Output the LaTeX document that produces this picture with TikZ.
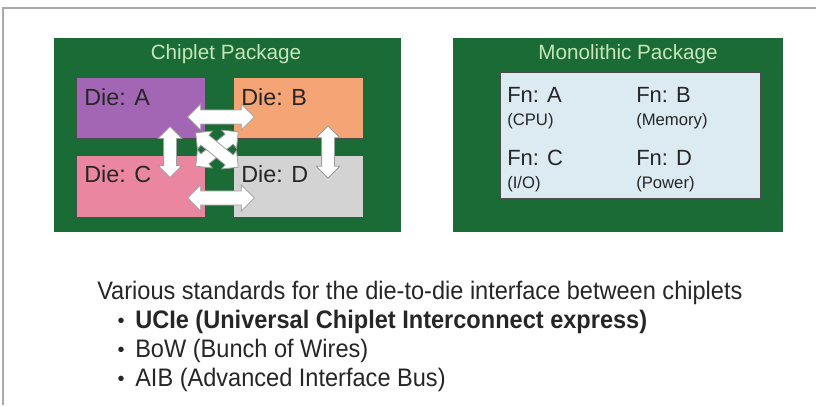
\documentclass[tikz,border=0pt]{standalone}
\usepackage{fontspec}
\setmainfont{Liberation Sans}
\newfontfamily\narrowsf{Liberation Sans}[FakeStretch=0.93]
\usetikzlibrary{shapes.arrows,fit}

\definecolor{pkggreen}{HTML}{1B6B36}
\definecolor{titlegreen}{HTML}{C6E6BA}
\definecolor{dieA}{HTML}{A266B4}
\definecolor{dieB}{HTML}{F5A476}
\definecolor{dieC}{HTML}{EB86A0}
\definecolor{dieD}{HTML}{D3D3D3}
\definecolor{monobox}{HTML}{DCEAF2}
\definecolor{framegray}{HTML}{AAAAAA}

\tikzset{
  pkg/.style={fill=pkggreen, inner sep=0pt},
  pkgtitle/.style={text=titlegreen, font=\fontsize{15.5}{18}\selectfont, anchor=base, inner sep=0pt},
  die/.style={draw=black!70, line width=0.6pt, inner sep=0pt},
  dietext/.style={text=black!85, font=\fontsize{17.5}{20}\selectfont, anchor=base west, inner sep=0pt},
  fntext/.style={text=black!85, font=\fontsize{16.5}{20}\selectfont, anchor=base west, inner sep=0pt},
  fnsub/.style={text=black!85, font=\fontsize{12.5}{15}\selectfont, anchor=base west, inner sep=0pt},
  dblarrow/.style={double arrow, draw=gray!75, fill=white, line width=0.6pt, inner xsep=0pt,
    inner ysep=5pt, double arrow head extend=4.5pt, double arrow tip angle=90, minimum width=0pt},
  thinarrow/.style={dblarrow, inner ysep=4.5pt, double arrow head extend=4pt},
  bodytext/.style={font=\narrowsf\fontsize{19}{22}\selectfont, text=black!85, anchor=base west, inner sep=0pt},
  bulletmark/.style={font=\fontsize{15}{18}\selectfont, text=black!85, anchor=base, inner sep=0pt}
}

\begin{document}
\begin{tikzpicture}[x=0.75pt, y=-0.75pt]
  \useasboundingbox (0,0) rectangle (816,405);
  \draw[framegray, line width=1.2pt] (816,8) -- (3,8) -- (3,405);

  % chiplet package
  \node[pkg, fit={(54,38) (401,232)}] (chip) {};
  \node[pkgtitle] (chiptitle) at (226,59) {Chiplet Package};
  \node[die, fill=dieA, fit={(76,77) (205,138)}] (dA) {};
  \node[die, fill=dieB, fit={(233,77) (363,138)}] (dB) {};
  \node[die, fill=dieC, fit={(76,155) (205,217)}] (dC) {};
  \node[die, fill=dieD, fit={(233,155) (363,217)}] (dD) {};
  \node[dietext] (tA) at (84,105) {Die: A};
  \node[dietext] (tB) at (241,105) {Die: B};
  \node[dietext] (tC) at (84,182) {Die: C};
  \node[dietext] (tD) at (241,182) {Die: D};

  % die-to-die links
  \node[dblarrow, minimum height=50pt] (ab) at (221,117) {};
  \node[dblarrow, minimum height=50pt] (cd) at (221,198) {};
  \node[thinarrow, minimum height=38pt, rotate=90] (ac) at (170,152) {};
  \node[thinarrow, minimum height=39pt, rotate=90] (bd) at (328,152) {};
  \node[thinarrow, minimum height=41pt, rotate=39] (cb) at (217,149) {};
  \node[thinarrow, minimum height=41pt, rotate=-39] (ad) at (217,150) {};

  % monolithic package
  \node[pkg, fit={(453,38) (783,232)}] (mono) {};
  \node[pkgtitle] (monotitle) at (628,59) {Monolithic Package};
  \node[die, fill=monobox, fit={(500,72) (760,198)}] (fn) {};
  \node[fntext] (fA) at (507,102) {Fn: A};
  \node[fnsub]  (sA) at (507,125) {(CPU)};
  \node[fntext] (fB) at (636,102) {Fn: B};
  \node[fnsub]  (sB) at (636,125) {(Memory)};
  \node[fntext] (fC) at (507,165) {Fn: C};
  \node[fnsub]  (sC) at (507,188) {(I/O)};
  \node[fntext] (fD) at (636,165) {Fn: D};
  \node[fnsub]  (sD) at (636,188) {(Power)};

  % standards
  \node[bodytext] (std) at (97,299) {Various standards for the die-to-die interface between chiplets};
  \node[bulletmark] (b1) at (121,327) {•};
  \node[bodytext, font=\narrowsf\bfseries\fontsize{19}{22}\selectfont] (ucie) at (135,328) {UCIe (Universal Chiplet Interconnect express)};
  \node[bulletmark] (b2) at (121,356) {•};
  \node[bodytext] (bow) at (135,357) {BoW (Bunch of Wires)};
  \node[bulletmark] (b3) at (121,385) {•};
  \node[bodytext] (aib) at (135,386) {AIB (Advanced Interface Bus)};
\end{tikzpicture}
\end{document}
